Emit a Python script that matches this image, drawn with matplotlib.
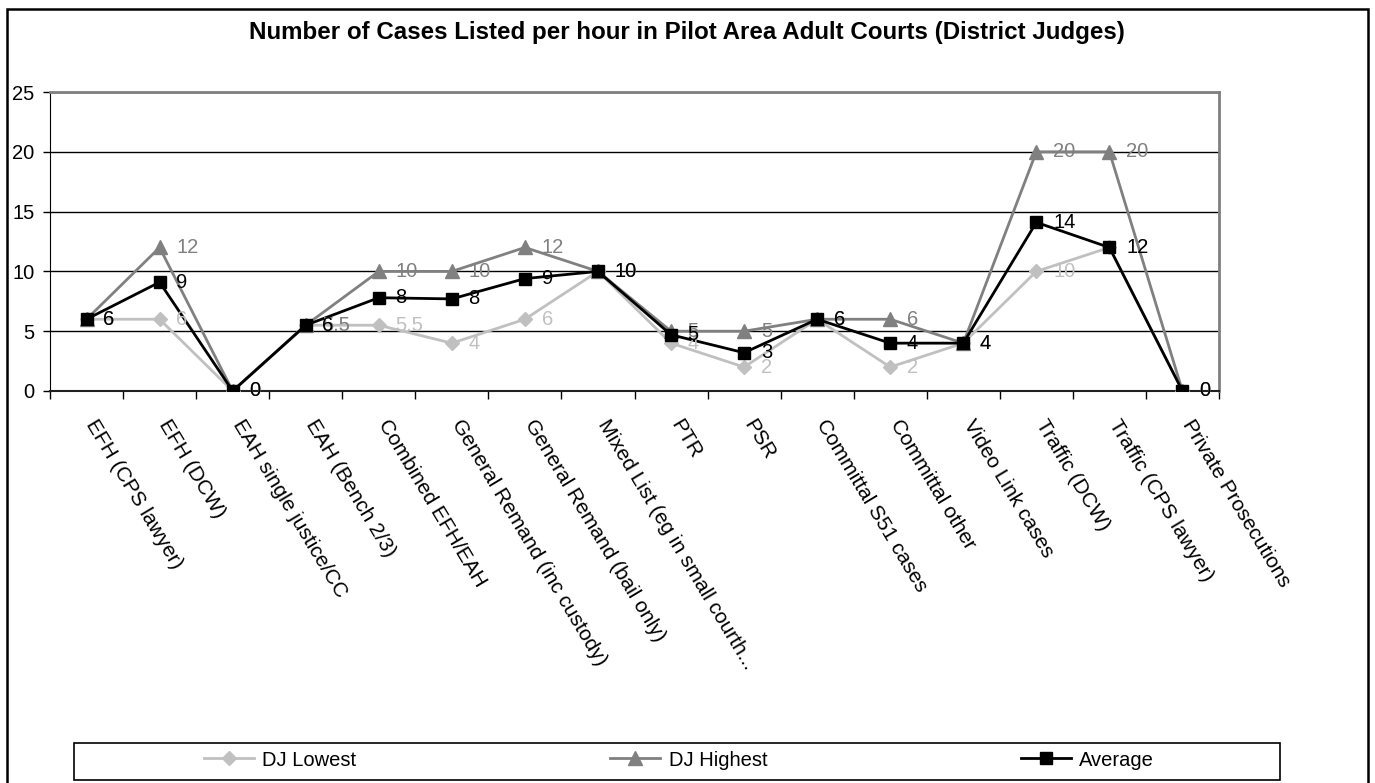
import numpy as np
import matplotlib
matplotlib.use("Agg")
from matplotlib import pyplot as plt
from matplotlib.patches import Rectangle
from matplotlib.lines import Line2D
from matplotlib.transforms import ScaledTranslation

plt.rcParams['font.family'] = ['Liberation Sans', 'DejaVu Sans']

# Case types listed by the district judges
categories = ["EFH (CPS lawyer)", "EFH (DCW)", "EAH single justice/CC", "EAH (Bench 2/3)",
              "Combined EFH/EAH", "General Remand (inc custody)", "General Remand (bail only)",
              "Mixed List (eg in small courth...", "PTR", "PSR", "Committal S51 cases",
              "Committal other", "Video Link cases", "Traffic (DCW)", "Traffic (CPS lawyer)",
              "Private Prosecutions"]

# cases listed per hour
dj_lowest = [6, 6, 0, 5.5, 5.5, 4, 6, 10, 4, 2, 6, 2, 4, 10, 12, 0]
dj_highest = [6, 12, 0, 5.5, 10, 10, 12, 10, 5, 5, 6, 6, 4, 20, 20, 0]
average = [6, 9.1, 0, 5.5, 7.8, 7.7, 9.4, 10, 4.7, 3.2, 6, 4, 4, 14.1, 12, 0]

y_ticks = [0, 5, 10, 15, 20, 25]

c_low = '#c0c0c0'
c_high = '#808080'
c_avg = '#000000'
fs = 14.5

fig = plt.figure(figsize=(13.75, 7.83), dpi=100)
ax = fig.add_axes([50/1375, 1 - 391/783, (1219 - 50)/1375, (391 - 92)/783])

x = np.arange(len(categories))

ax.plot(x, dj_lowest, color=c_low, lw=2, marker='D', ms=7.5, mec=c_low, mfc=c_low, zorder=3)
ax.plot(x, dj_highest, color=c_high, lw=2, marker='^', ms=10, mec=c_high, mfc=c_high, zorder=4)
ax.plot(x, average, color=c_avg, lw=2, marker='s', ms=9, mec=c_avg, mfc=c_avg, zorder=5)

# data labels to the right of each point
for vals, col, fmt, z in [(dj_lowest, c_low, '{:g}', 6), (dj_highest, c_high, '{:g}', 7),
                          (average, c_avg, '{:.0f}', 8)]:
    for xi, v in zip(x, vals):
        ax.annotate(fmt.format(v), (xi, v), xytext=(12, 0), textcoords='offset points',
                    ha='left', va='center', fontsize=fs, color=col, zorder=z,
                    annotation_clip=False)

ax.set_xlim(-0.5, len(categories) - 0.5)
ax.set_ylim(0, 25)
ax.set_yticks(y_ticks)
ax.set_yticklabels([str(t) for t in y_ticks], fontsize=fs)
ax.tick_params(axis='y', direction='out', length=5, width=1, pad=6)

# category labels centred, ticks on the category boundaries
ax.set_xticks(x)
ax.set_xticklabels(categories, rotation=-59, rotation_mode='anchor', ha='left', va='center',
                   fontsize=15)
ax.tick_params(axis='x', which='major', length=0, pad=22)
ax.set_xticks(np.arange(-0.5, len(categories)), minor=True)
ax.tick_params(axis='x', which='minor', direction='out', length=6, width=1)
shift = ScaledTranslation(4/100, 0, fig.dpi_scale_trans)
for lab in ax.get_xticklabels():
    lab.set_transform(lab.get_transform() + shift)

ax.grid(axis='y', color='black', lw=1)
ax.set_axisbelow(True)
ax.spines['left'].set_color('black')
ax.spines['bottom'].set_color('#202020')
ax.spines['bottom'].set_linewidth(1.5)
for s in ['top', 'right']:
    ax.spines[s].set_color('#808080')
    ax.spines[s].set_linewidth(2)

fig.text(687/1375, 1 - 32/783,
         "Number of Cases Listed per hour in Pilot Area Adult Courts (District Judges)",
         ha='center', va='center', fontsize=17.4, fontweight='bold')

# legend box
fig.patches.append(Rectangle((74/1375, 3/783), 1206/1375, 37/783, transform=fig.transFigure,
                             fill=False, edgecolor='black', lw=1.2))
handles = [Line2D([], [], color=c_low, lw=2, marker='D', ms=7.5, mec=c_low, mfc=c_low),
           Line2D([], [], color=c_high, lw=2, marker='^', ms=10, mec=c_high, mfc=c_high),
           Line2D([], [], color=c_avg, lw=2, marker='s', ms=9, mec=c_avg, mfc=c_avg)]
fig.legend(handles, ["DJ Lowest", "DJ Highest", "Average"], loc='center',
           bbox_to_anchor=(679/1375, 1 - 760/783), ncol=3, frameon=False, fontsize=fs,
           handlelength=2.5, handletextpad=0.4, columnspacing=12.6)

# outer chart frame
fig.patches.append(Rectangle((7/1375, -0.05), 1361/1375, 1.05 - 9/783, transform=fig.transFigure,
                             fill=False, edgecolor='black', lw=1.8))

fig.savefig('out.png', dpi=100)
